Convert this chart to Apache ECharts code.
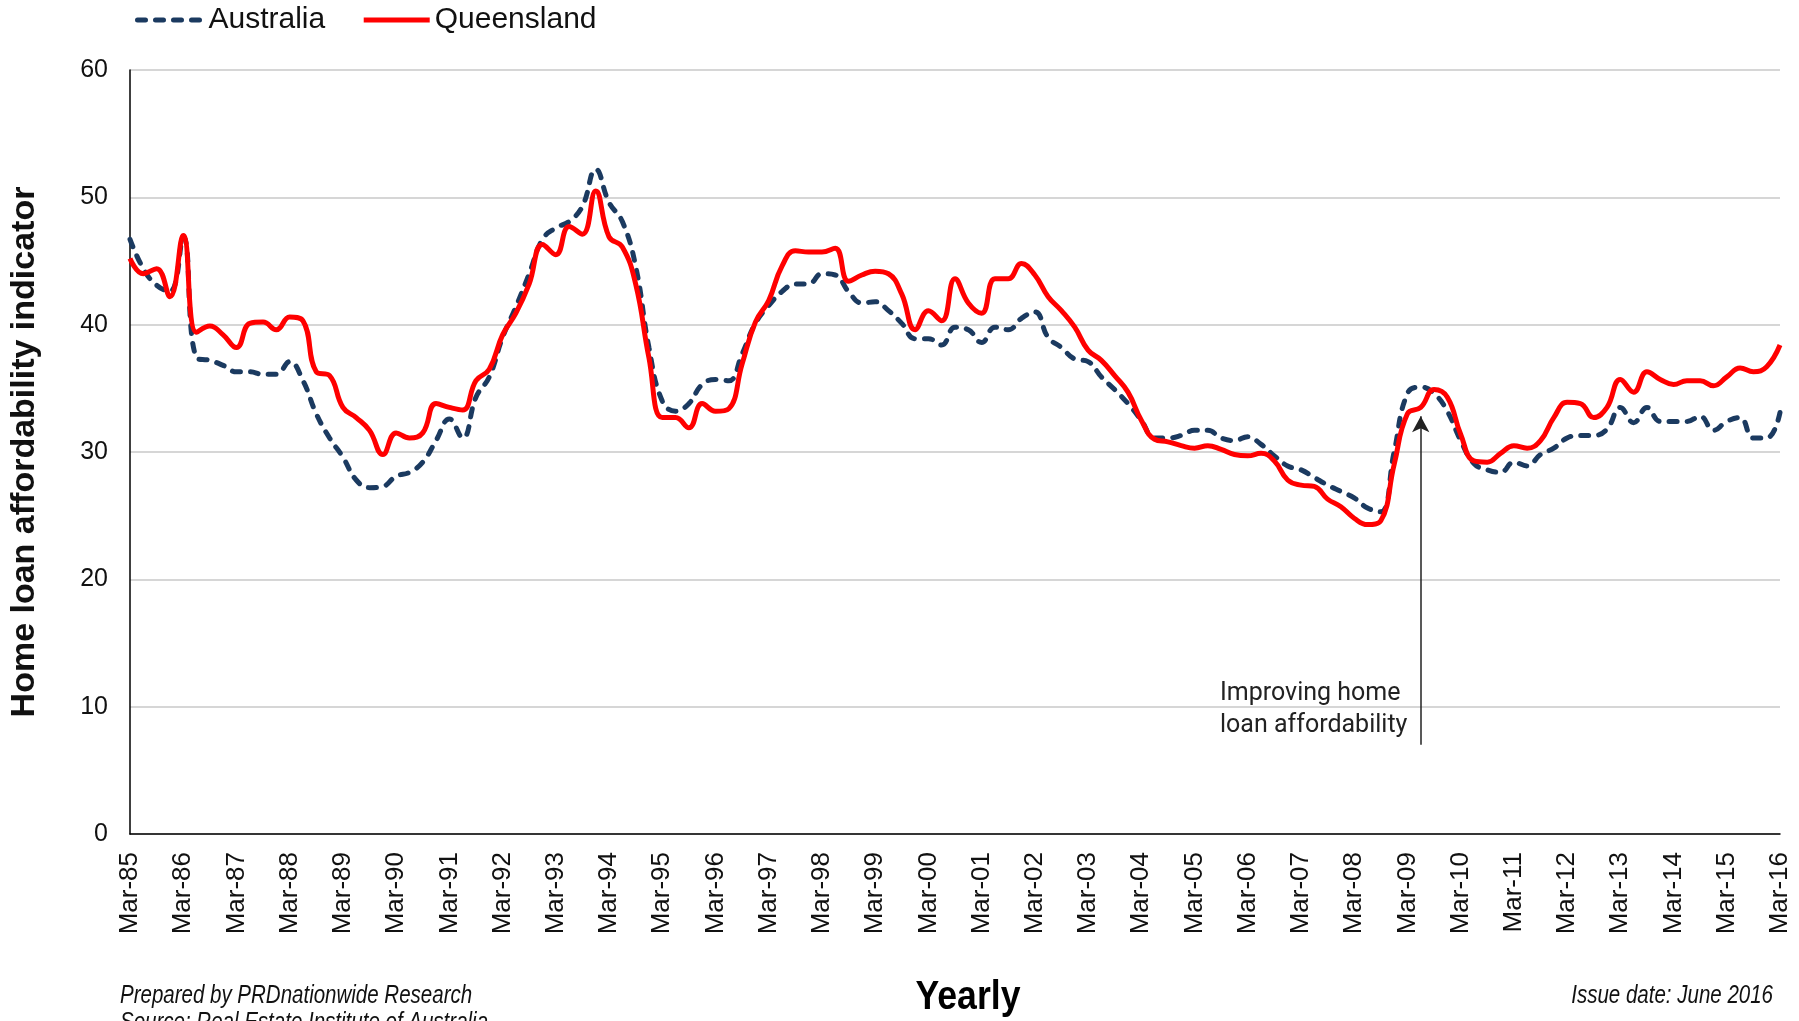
<!DOCTYPE html>
<html>
<head>
<meta charset="utf-8">
<script src="https://cdn.jsdelivr.net/npm/echarts@6/dist/echarts.min.js"></script>
<style>
html,body{margin:0;padding:0;background:#fff;}
#chart{width:1799px;height:1021px;}
</style>
</head>
<body>
<div id="chart"></div>
<script>
// Quarterly categories Mar-85 .. Mar-16
const months = ['Mar', 'Jun', 'Sep', 'Dec'];
const categories = [];
for (let y = 1985; y <= 2016; y++) {
  for (let q = 0; q < 4; q++) {
    if (y === 2016 && q > 0) break;
    categories.push(months[q] + '-' + String(y % 100).padStart(2, '0'));
  }
}

const queensland = [
  45.2, 44.0, 44.4, 42.2, 47.0, 39.4, 39.9, 39.2, 38.2, 40.1,
  40.2, 39.6, 40.6, 40.3, 36.3, 36.0, 33.5, 32.7, 31.7, 29.8,
  31.5, 31.1, 31.5, 33.8, 33.5, 33.3, 35.6, 36.5, 39.2, 40.9,
  43.2, 46.3, 45.5, 47.7, 47.1, 50.5, 46.9, 46.1, 43.2, 37.4,
  32.7, 32.7, 31.9, 33.8, 33.2, 33.4, 36.9, 40.2, 41.9, 44.6,
  45.8, 45.7, 45.7, 46.0, 43.4, 43.9, 44.2, 44.0, 42.4, 39.6,
  41.1, 40.3, 43.6, 41.7, 40.9, 43.6, 43.6, 44.8, 43.9, 42.2,
  41.1, 39.8, 38.0, 37.2, 36.0, 34.7, 32.5, 31.0, 30.8, 30.5,
  30.3, 30.5, 30.2, 29.8, 29.7, 29.9, 29.3, 27.8, 27.4, 27.3,
  26.3, 25.7, 24.8, 24.3, 24.6, 29.0, 33.0, 33.5, 34.9, 34.3,
  31.4, 29.3, 29.2, 29.9, 30.5, 30.3, 30.9, 32.7, 33.9, 33.8,
  32.7, 33.5, 35.7, 34.7, 36.3, 35.7, 35.3, 35.6, 35.6, 35.2,
  35.9, 36.6, 36.3, 36.7, 38.4
];

const australia = [
  46.7, 44.4, 43.1, 42.6, 46.9, 37.4, 37.2, 36.8, 36.3, 36.3,
  36.1, 36.1, 37.1, 35.6, 33.0, 31.1, 29.6, 27.8, 27.2, 27.3,
  28.1, 28.4, 29.2, 30.9, 32.6, 31.1, 34.3, 35.9, 39.0, 41.4,
  44.0, 46.7, 47.6, 48.1, 49.3, 52.2, 49.6, 48.1, 44.6, 38.2,
  34.0, 33.2, 33.8, 35.3, 35.7, 35.6, 37.7, 40.1, 41.5, 42.6,
  43.2, 43.2, 44.0, 43.9, 42.6, 41.7, 41.8, 41.1, 40.1, 38.9,
  38.9, 38.4, 39.8, 39.6, 38.6, 39.8, 39.6, 40.5, 41.0, 39.0,
  38.2, 37.3, 37.1, 35.9, 34.9, 33.8, 32.5, 31.1, 31.1, 31.3,
  31.7, 31.7, 31.1, 30.9, 31.2, 30.6, 29.7, 28.9, 28.6, 28.0,
  27.4, 26.9, 26.4, 25.6, 25.3, 30.0, 34.6, 35.1, 34.6, 33.2,
  30.9, 29.1, 28.6, 28.4, 29.2, 28.9, 29.8, 30.3, 31.1, 31.3,
  31.3, 31.8, 33.5, 32.3, 33.5, 32.4, 32.4, 32.4, 32.8, 31.7,
  32.4, 32.7, 31.1, 31.1, 33.1
];

// Annotation arrow (category index, value from / to)
const arrowAt = { index: 97, from: 7.0, to: 32.8 };

const SANS = "'Liberation Sans', Arial, sans-serif";

const chart = echarts.init(document.getElementById('chart'), null, { renderer: 'canvas' });

chart.setOption({
  backgroundColor: '#ffffff',
  animation: false,
  grid: { left: 128, right: 19, top: 70, bottom: 187, containLabel: false },
  legend: {
    left: 130,
    top: 0,
    itemWidth: 66,
    itemHeight: 14,
    itemGap: 36,
    itemStyle: { opacity: 0 },
    lineStyle: { width: 5 },
    textStyle: { fontFamily: SANS, fontSize: 30, color: '#111' },
    data: ['Australia', 'Queensland']
  },
  xAxis: {
    type: 'category',
    data: categories,
    boundaryGap: false,
    axisLine: { show: true, lineStyle: { color: '#000', width: 1.5 } },
    axisTick: { show: false },
    axisLabel: {
      interval: 3,
      rotate: 90,
      margin: 18,
      fontFamily: SANS,
      fontSize: 26,
      color: '#111'
    },
    splitLine: { show: false }
  },
  yAxis: {
    type: 'value',
    min: 0,
    max: 60,
    interval: 10,
    name: 'Home loan affordability indicator',
    nameLocation: 'middle',
    nameGap: 88,
    nameTextStyle: { fontFamily: SANS, fontWeight: 'bold', fontSize: 34, color: '#111' },
    axisLine: { show: true, lineStyle: { color: '#000', width: 1.5 } },
    axisTick: { show: false },
    axisLabel: { margin: 22, fontFamily: SANS, fontSize: 25, color: '#111' },
    splitLine: { show: true, lineStyle: { color: '#c8c8c8', width: 1.5 } }
  },
  series: [
    {
      name: 'Australia',
      type: 'line',
      data: australia,
      smooth: 0.45,
      symbol: 'none',
      lineStyle: { color: '#1b3a60', width: 5, type: [8, 10], cap: 'round' },
      itemStyle: { color: '#1b3a60' },
      z: 2
    },
    {
      name: 'Queensland',
      type: 'line',
      data: queensland,
      smooth: 0.45,
      symbol: 'none',
      lineStyle: { color: '#ff0000', width: 5 },
      itemStyle: { color: '#ff0000' },
      z: 3,
      markLine: {
        silent: true,
        symbol: ['none', 'arrow'],
        symbolSize: [13, 16],
        label: { show: false },
        lineStyle: { color: '#222', width: 1.5, type: 'solid' },
        data: [[
          { coord: [arrowAt.index, arrowAt.from] },
          { coord: [arrowAt.index, arrowAt.to] }
        ]]
      }
    }
  ],
  graphic: [
    {
      type: 'text', left: 1220, top: 678,
      style: {
        text: 'Improving home\nloan affordability',
        font: "25px Roboto, 'Noto Sans', sans-serif",
        fill: '#222', lineHeight: 32
      }
    },
    {
      type: 'text', x: 968, y: 998, scaleX: 0.89,
      style: {
        text: 'Yearly', fontFamily: SANS, fontWeight: 'bold', fontSize: 40,
        fill: '#000', align: 'center', verticalAlign: 'middle'
      }
    },
    {
      type: 'text', x: 120, y: 996, scaleX: 0.82,
      style: {
        text: 'Prepared by PRDnationwide Research', fontFamily: SANS, fontStyle: 'italic',
        fontSize: 25, fill: '#111', align: 'left', verticalAlign: 'middle'
      }
    },
    {
      type: 'text', x: 120, y: 1023, scaleX: 0.82,
      style: {
        text: 'Source: Real Estate Institute of Australia', fontFamily: SANS, fontStyle: 'italic',
        fontSize: 25, fill: '#111', align: 'left', verticalAlign: 'middle'
      }
    },
    {
      type: 'text', x: 1773, y: 996, scaleX: 0.82,
      style: {
        text: 'Issue date: June 2016', fontFamily: SANS, fontStyle: 'italic',
        fontSize: 25, fill: '#111', align: 'right', verticalAlign: 'middle'
      }
    }
  ]
});
</script>
</body>
</html>
